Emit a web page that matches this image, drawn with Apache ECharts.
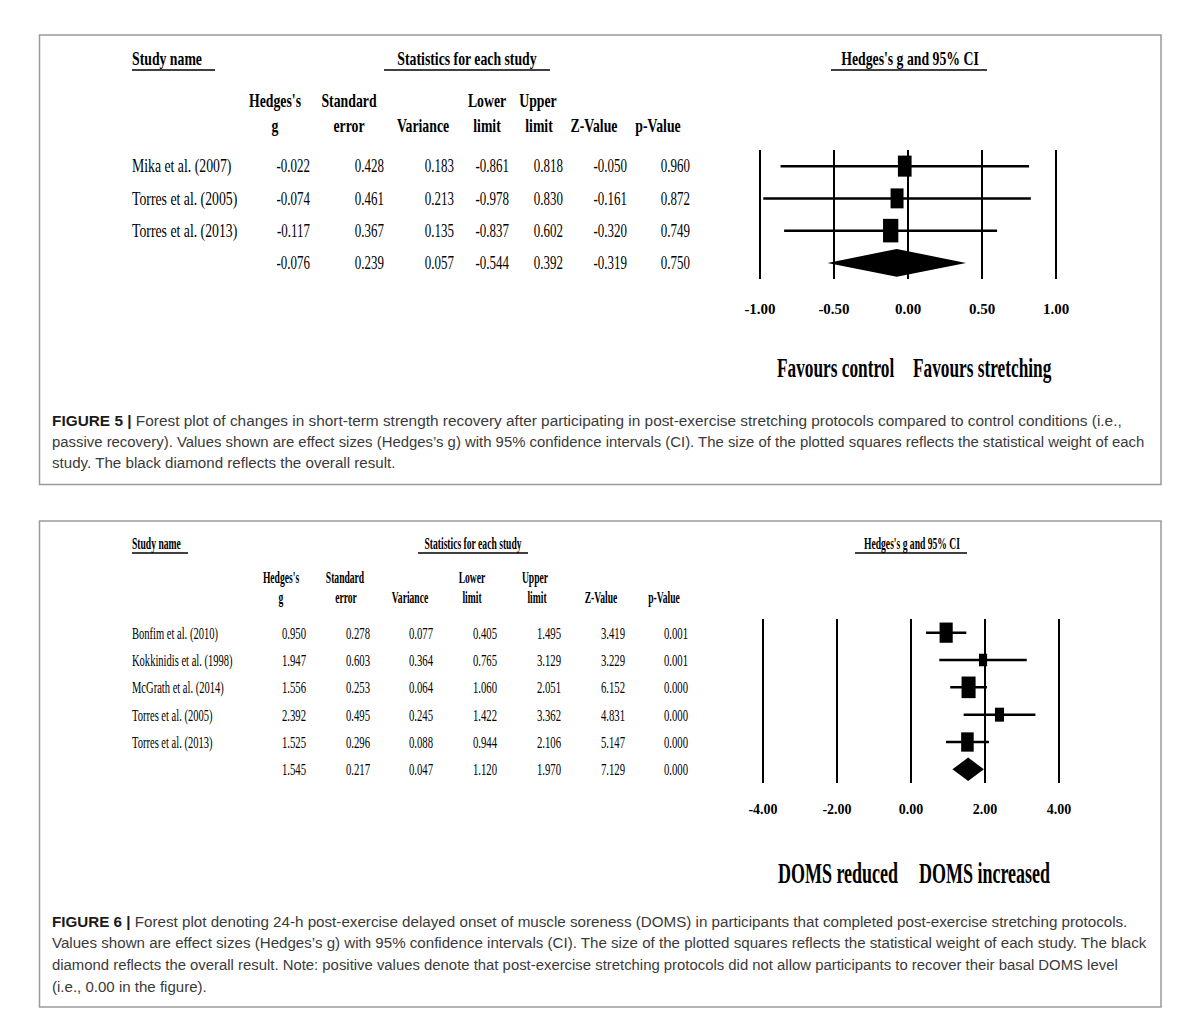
<!DOCTYPE html>
<html><head><meta charset="utf-8">
<script src="https://cdn.jsdelivr.net/npm/echarts/dist/echarts.min.js"></script>
<style>html,body{margin:0;padding:0;background:#fff}#c{width:1200px;height:1033px}</style>
</head><body><div id="c"></div>
<script>
// ---------- Figure 5 data ----------
const f5Studies = ['Mika et al. (2007)', 'Torres et al. (2005)', 'Torres et al. (2013)'];
const f5G     = [-0.022, -0.074, -0.117];
const f5SE    = [0.428, 0.461, 0.367];
const f5Var   = [0.183, 0.213, 0.135];
const f5Lower = [-0.861, -0.978, -0.837];
const f5Upper = [0.818, 0.830, 0.602];
const f5Z     = [-0.050, -0.161, -0.320];
const f5P     = [0.960, 0.872, 0.749];
const f5Overall = [-0.076, 0.239, 0.057, -0.544, 0.392, -0.319, 0.750]; // g, SE, var, lower, upper, Z, p
const f5Ticks = [-1, -0.5, 0, 0.5, 1];
const f5Favours = ['Favours control', 'Favours stretching'];

// ---------- Figure 6 data ----------
const f6Studies = ['Bonfim et al. (2010)', 'Kokkinidis et al. (1998)', 'McGrath et al. (2014)', 'Torres et al. (2005)', 'Torres et al. (2013)'];
const f6G     = [0.950, 1.947, 1.556, 2.392, 1.525];
const f6SE    = [0.278, 0.603, 0.253, 0.495, 0.296];
const f6Var   = [0.077, 0.364, 0.064, 0.245, 0.088];
const f6Lower = [0.405, 0.765, 1.060, 1.422, 0.944];
const f6Upper = [1.495, 3.129, 2.051, 3.362, 2.106];
const f6Z     = [3.419, 3.229, 6.152, 4.831, 5.147];
const f6P     = [0.001, 0.001, 0.000, 0.000, 0.000];
const f6Overall = [1.545, 0.217, 0.047, 1.120, 1.970, 7.129, 0.000];
const f6Ticks = [-4, -2, 0, 2, 4];
const f6Favours = ['DOMS reduced', 'DOMS increased'];

const colHeaders = [['Hedges\'s', 'g'], ['Standard', 'error'], ['', 'Variance'], ['Lower', 'limit'], ['Upper', 'limit'], ['', 'Z-Value'], ['', 'p-Value']];
const plotTitle = 'Hedges\'s g and 95% CI';

const cap5 = [
  '{b|FIGURE 5 |} Forest plot of changes in short-term strength recovery after participating in post-exercise stretching protocols compared to control conditions (i.e.,',
  'passive recovery). Values shown are effect sizes (Hedges\u2019s g) with 95% confidence intervals (CI). The size of the plotted squares reflects the statistical weight of each',
  'study. The black diamond reflects the overall result.'
];
const cap6 = [
  '{b|FIGURE 6 |} Forest plot denoting 24-h post-exercise delayed onset of muscle soreness (DOMS) in participants that completed post-exercise stretching protocols.',
  'Values shown are effect sizes (Hedges\u2019s g) with 95% confidence intervals (CI). The size of the plotted squares reflects the statistical weight of each study. The black',
  'diamond reflects the overall result. Note: positive values denote that post-exercise stretching protocols did not allow participants to recover their basal DOMS level',
  '(i.e., 0.00 in the figure).'
];

// ---------- helpers ----------
const SERIF = '"Liberation Serif", "Times New Roman", serif';
const SANS = '"Liberation Sans", Arial, sans-serif';
function T(x, y, text, o) {
  return { type: 'text', x: x, y: y, scaleX: o.sx || 1, silent: true, z: 100,
    style: { text: text, fill: o.fill || '#000', fontSize: o.size, fontFamily: o.family || SERIF,
      fontWeight: o.bold ? 'bold' : 'normal', align: o.align || 'left', verticalAlign: 'middle', rich: o.rich } };
}
function L(x1, x2, y, w) {
  return { type: 'line', silent: true, z: 100, shape: { x1: x1, y1: y, x2: x2, y2: y }, style: { stroke: '#000', lineWidth: w || 1.5 } };
}

function renderRow(params, api) {
  const lo = api.value(0), hi = api.value(1), g = api.value(2), row = api.value(3), h = api.value(4), isSum = api.value(5);
  const pl = api.coord([lo, row]), ph = api.coord([hi, row]), pg = api.coord([g, row]);
  const band = api.size([0, 1])[1];
  if (isSum) {
    const dh = band * 0.43;
    return { type: 'polygon', shape: { points: [[pl[0], pl[1]], [pg[0], pg[1] - dh], [ph[0], ph[1]], [pg[0], pg[1] + dh]] }, style: { fill: '#000' } };
  }
  const w = h * 0.65;
  return { type: 'group', children: [
    { type: 'line', shape: { x1: pl[0], y1: pl[1], x2: ph[0], y2: ph[1] }, style: { stroke: '#000', lineWidth: 2.5 } },
    { type: 'rect', shape: { x: pg[0] - w / 2, y: pg[1] - h / 2, width: w, height: h }, style: { fill: '#000' } }
  ] };
}

const grids = [], xAxes = [], yAxes = [], series = [], graphics = [];

function buildFigure(idx, d, lay) {
  const n = d.studies.length;
  const invVar = d.vr.map(v => 1 / v);
  const sum = invVar.reduce((a, b) => a + b, 0);
  const rows = d.studies.map((s, i) => [d.lo[i], d.hi[i], d.g[i], i, 6 + 27 * Math.sqrt(invVar[i] / sum), 0]);
  rows.push([d.overall[3], d.overall[4], d.overall[0], n, 0, 1]);

  grids.push({ left: lay.gx, top: lay.gy, width: lay.gw, height: lay.gh, containLabel: false });
  xAxes.push({ type: 'value', gridIndex: idx, min: d.ticks[0], max: d.ticks[d.ticks.length - 1], interval: d.ticks[1] - d.ticks[0],
    axisLine: { show: false }, axisTick: { show: false },
    splitLine: { show: true, showMinLine: true, showMaxLine: true, lineStyle: { color: '#000', width: 2 } },
    axisLabel: { show: true, showMinLabel: true, showMaxLabel: true, formatter: v => v.toFixed(2), color: '#000',
      fontFamily: SERIF, fontWeight: 'bold', fontSize: lay.tickSize, margin: lay.tickMargin } });
  yAxes.push({ type: 'category', gridIndex: idx, inverse: true, show: false, data: d.studies.concat(['Overall']) });
  series.push({ type: 'custom', xAxisIndex: idx, yAxisIndex: idx, renderItem: renderRow, data: rows,
    encode: { x: [0, 1, 2], y: 3 }, silent: true, animation: false, clip: false });

  // table
  const band = lay.gh / (n + 1);
  const rowY = i => lay.gy + (i + 0.5) * band;
  d.studies.forEach((s, i) => {
    graphics.push(T(lay.nameX, rowY(i), s, { size: lay.bodySize, sx: lay.nameSx }));
    const vals = [d.g[i], d.se[i], d.vr[i], d.lo[i], d.hi[i], d.z[i], d.p[i]];
    vals.forEach((v, c) => graphics.push(T(lay.colRight[c], rowY(i), v.toFixed(3), { size: lay.bodySize, sx: lay.valSx, align: 'right' })));
  });
  d.overall.forEach((v, c) => graphics.push(T(lay.colRight[c], rowY(n), v.toFixed(3), { size: lay.bodySize, sx: lay.valSx, align: 'right' })));

  // headers
  colHeaders.forEach((hh, c) => {
    if (hh[0]) graphics.push(T(lay.headX[c][0], lay.hy1, hh[0], { size: lay.headSize, sx: lay.headSx, bold: true, align: 'center' }));
    graphics.push(T(lay.headX[c][1], lay.hy2, hh[1], { size: lay.headSize, sx: lay.headSx, bold: true, align: 'center' }));
  });
  graphics.push(T(lay.nameX, lay.ty, 'Study name', { size: lay.headSize, sx: lay.headSx, bold: true }));
  graphics.push(L(lay.nameX, lay.studyUl, lay.uy));
  graphics.push(T(lay.statsX, lay.ty, 'Statistics for each study', { size: lay.headSize, sx: lay.headSx, bold: true, align: 'center' }));
  graphics.push(L(lay.statsUl[0], lay.statsUl[1], lay.uy));
  graphics.push(T(lay.titleX, lay.ty, plotTitle, { size: lay.headSize, sx: lay.headSx, bold: true, align: 'center' }));
  graphics.push(L(lay.titleUl[0], lay.titleUl[1], lay.uy));
  // favours
  graphics.push(T(lay.favX[0], lay.favY, d.favours[0], { size: lay.favSize, sx: lay.favSx, bold: true }));
  graphics.push(T(lay.favX[1], lay.favY, d.favours[1], { size: lay.favSize, sx: lay.favSx, bold: true }));
}

buildFigure(0,
  { studies: f5Studies, g: f5G, se: f5SE, vr: f5Var, lo: f5Lower, hi: f5Upper, z: f5Z, p: f5P, overall: f5Overall, ticks: f5Ticks, favours: f5Favours },
  { gx: 760, gy: 150, gw: 296, gh: 129, tickSize: 15, tickMargin: 22,
    nameX: 132, colRight: [310, 384, 454, 509, 563, 627, 690],
    headX: [[275, 275], [349, 349], [0, 423], [487, 487], [538, 539], [0, 594], [0, 658]],
    hy1: 101, hy2: 126, ty: 59, uy: 70, bodySize: 18, nameSx: 0.765, valSx: 0.72, headSize: 18, headSx: 0.765,
    studyUl: 215, statsX: 467, statsUl: [384, 550], titleX: 910, titleUl: [831, 987],
    favX: [777, 913], favY: 368, favSize: 27, favSx: 0.64 });

buildFigure(1,
  { studies: f6Studies, g: f6G, se: f6SE, vr: f6Var, lo: f6Lower, hi: f6Upper, z: f6Z, p: f6P, overall: f6Overall, ticks: f6Ticks, favours: f6Favours },
  { gx: 763, gy: 619, gw: 296, gh: 164, tickSize: 14, tickMargin: 19,
    nameX: 132, colRight: [306, 370, 433, 497, 561, 625, 688],
    headX: [[281, 281], [345, 346], [0, 410], [472, 472], [535, 537], [0, 601], [0, 664]],
    hy1: 578, hy2: 598, ty: 544, uy: 553, bodySize: 17, nameSx: 0.62, valSx: 0.63, headSize: 16, headSx: 0.6,
    studyUl: 188, statsX: 473, statsUl: [418, 528], titleX: 912, titleUl: [855, 967],
    favX: [778, 919], favY: 873, favSize: 30, favSx: 0.6 });

// boxes
graphics.push({ type: 'rect', silent: true, z: 1, shape: { x: 39.5, y: 35, width: 1121.5, height: 449.5 }, style: { fill: 'none', stroke: '#9a9a9a', lineWidth: 1.5 } });
graphics.push({ type: 'rect', silent: true, z: 1, shape: { x: 39.5, y: 521, width: 1121.5, height: 486 }, style: { fill: 'none', stroke: '#9a9a9a', lineWidth: 1.5 } });

// captions: each full line is fitted to the width it has in the reference
const capSize = 15.5, capLeft = 52;
const ctx = document.createElement('canvas').getContext('2d');
function measureCap(t) {
  const m = t.match(/^\{b\|(.*?)\}(.*)$/);
  ctx.font = capSize + 'px "Liberation Sans"';
  if (!m) return ctx.measureText(t).width;
  const rest = ctx.measureText(m[2]).width;
  ctx.font = 'bold ' + capSize + 'px "Liberation Sans"';
  return rest + ctx.measureText(m[1]).width;
}
const capRich = { b: { fontWeight: 'bold', fill: '#1a1a1a', fontSize: capSize, fontFamily: SANS } };
function addCaption(lines, ends, y0, dy) {
  const scales = lines.map((t, i) => ends[i] ? (ends[i] - capLeft) / measureCap(t) : null);
  const known = scales.filter(s => s);
  const avg = known.reduce((a, b) => a + b, 0) / known.length;
  lines.forEach((t, i) => graphics.push(T(capLeft, y0 + i * dy, t,
    { size: capSize, sx: scales[i] || avg, family: SANS, fill: '#3a3a3a', rich: capRich })));
}
addCaption(cap5, [1122, 1146, null], 420, 21);
addCaption(cap6, [1128, 1148, 1118, null], 921, 21.7);

const chart = echarts.init(document.getElementById('c'), null, { renderer: 'svg' });
chart.setOption({
  animation: false,
  backgroundColor: '#fff',
  grid: grids, xAxis: xAxes, yAxis: yAxes, series: series,
  graphic: { elements: graphics }
});
</script></body></html>
